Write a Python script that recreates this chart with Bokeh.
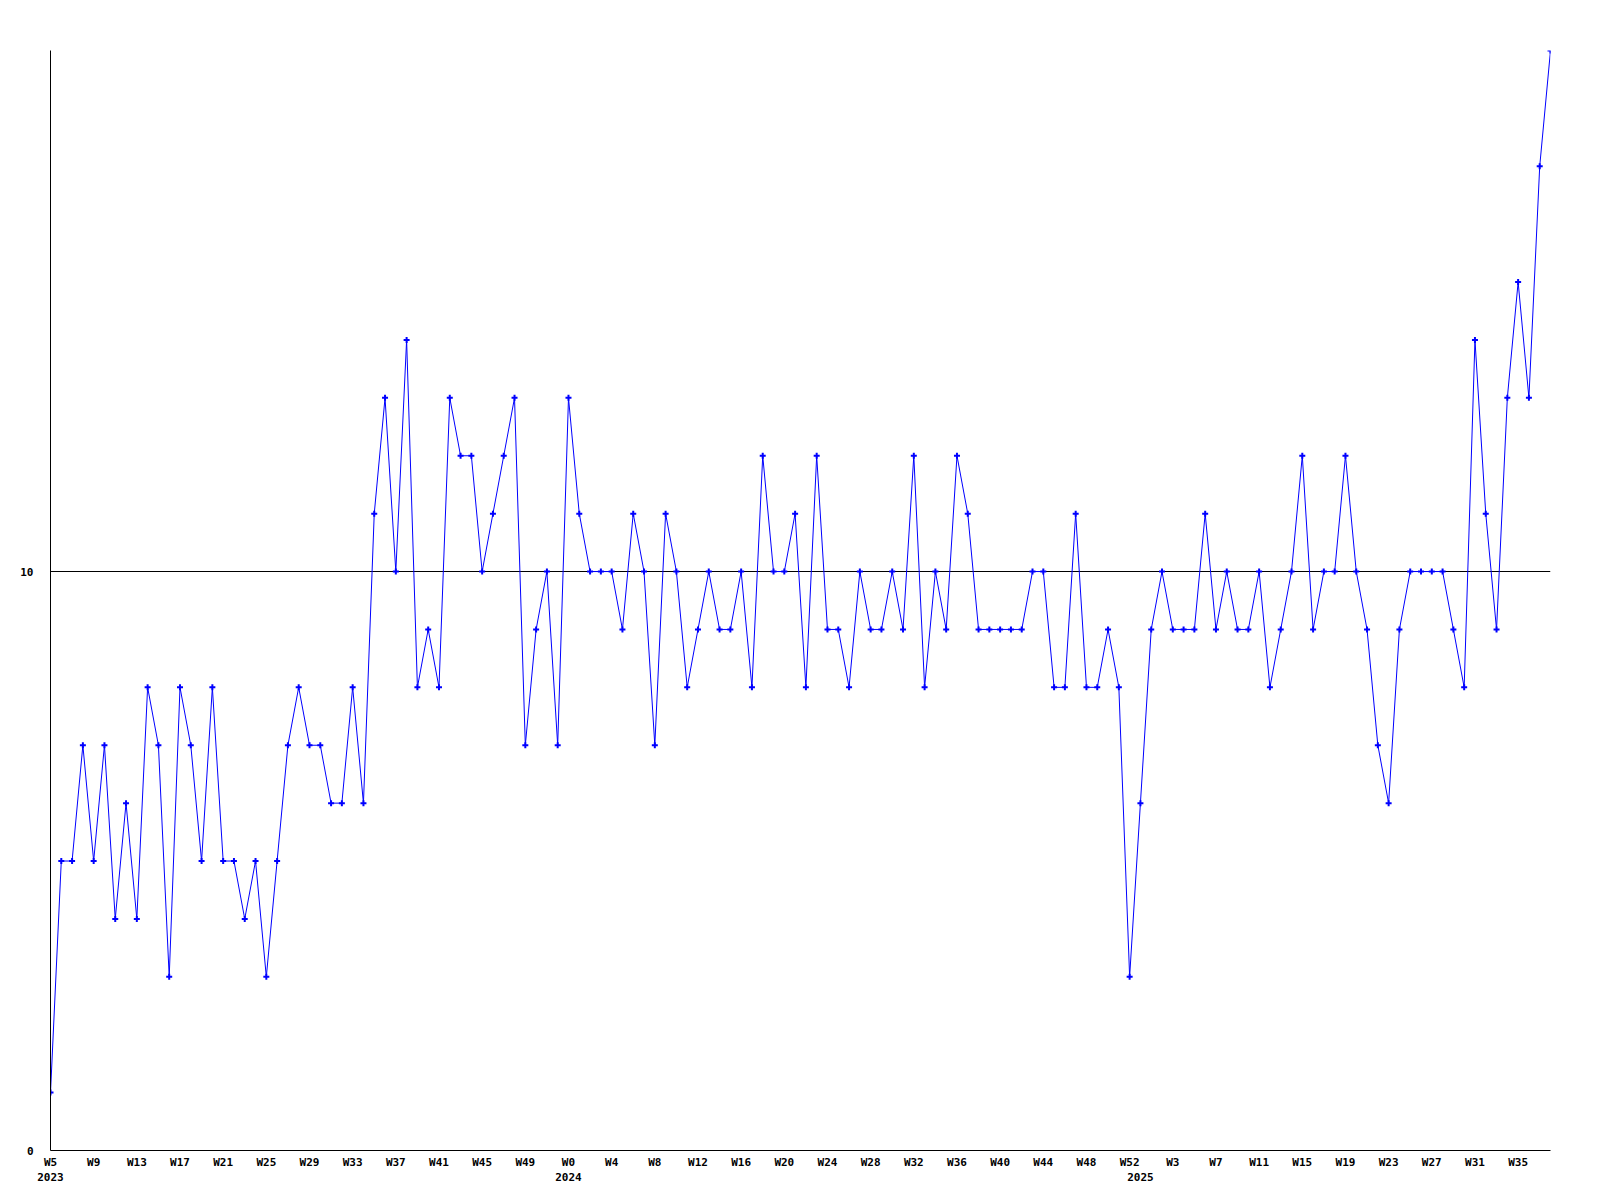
from bokeh.plotting import figure
from bokeh.models import Range1d, LinearAxis, FixedTicker
from bokeh.embed import file_html
from bokeh.resources import INLINE

# weekly values, W5 2023 .. W37 2025
values = [
    1, 5, 5, 7, 5, 7, 4, 6, 4, 8, 7, 3, 8, 7, 5, 8, 5, 5, 4, 5,
    3, 5, 7, 8, 7, 7, 6, 6, 8, 6,
    11, 13, 10, 14, 8, 9, 8, 13, 12, 12, 10, 11, 12, 13, 7, 9, 10, 7, 13, 11, 10,
    10, 10, 9, 11, 10, 7, 11, 10, 8, 9, 10, 9, 9, 10, 8, 12, 10, 10, 11, 8, 12, 9,
    9, 8, 10, 9, 9, 10, 9, 12, 8, 10, 9, 12, 11, 9, 9, 9, 9, 9, 10, 10, 8,
    8, 11, 8, 8, 9, 8, 3, 6, 9, 10, 9, 9, 9, 11, 9, 10, 9, 9, 10, 8, 9,
    10, 12, 9, 10, 10, 12, 10, 9, 7, 6, 9, 10, 10, 10, 10, 9, 8, 14, 11, 9, 13, 15, 13, 17, 19,
]

week_tick_labels = [
    "W5", "W9", "W13", "W17", "W21", "W25", "W29", "W33", "W37", "W41", "W45", "W49",
    "W0", "W4", "W8", "W12", "W16", "W20", "W24", "W28", "W32", "W36", "W40", "W44", "W48", "W52",
    "W3", "W7", "W11", "W15", "W19", "W23", "W27", "W31", "W35",
]
week_tick_index = [
    0, 4, 8, 12, 16, 20, 24, 28, 32, 36, 40, 44,
    48, 52, 56, 60, 64, 68, 72, 76, 80, 84, 88, 92, 96, 100,
    104, 108, 112, 116, 120, 124, 128, 132, 136,
]
year_labels = ["2023", "2024", "2025"]
year_index = [0, 48, 101]

y_tick_values = [0, 10]
y_tick_labels = ["0", "10"]

FONT = "DejaVu Sans Mono"

xs = list(range(len(values)))

p = figure(width=1584, height=1196, output_backend="svg", toolbar_location=None,
           x_range=Range1d(0, len(values) - 1), y_range=Range1d(0, 19),
           min_border_left=50, min_border_right=34, min_border_top=50, min_border_bottom=46)
p.outline_line_color = None
p.background_fill_color = "white"
p.border_fill_color = "white"
p.xgrid.visible = False
p.ygrid.ticker = FixedTicker(ticks=[10])
p.ygrid.grid_line_color = "black"
p.ygrid.grid_line_alpha = 1.0
p.ygrid.grid_line_width = 1


def style_axis(ax):
    ax.major_tick_line_color = None
    ax.minor_tick_line_color = None
    ax.major_tick_out = 0
    ax.major_tick_in = 0
    ax.minor_tick_out = 0
    ax.minor_tick_in = 0
    ax.axis_line_color = "black"
    ax.axis_line_width = 1
    ax.major_label_text_font = FONT
    ax.major_label_text_font_size = "11px"
    ax.major_label_text_font_style = "bold"
    ax.major_label_text_color = "black"


xa = p.xaxis[0]
style_axis(xa)
xa.ticker = FixedTicker(ticks=week_tick_index)
xa.major_label_overrides = {i: t for i, t in zip(week_tick_index, week_tick_labels)}
xa.major_label_standoff = 5

ya = p.yaxis[0]
style_axis(ya)
ya.ticker = FixedTicker(ticks=y_tick_values)
ya.major_label_overrides = {v: t for v, t in zip(y_tick_values, y_tick_labels)}
ya.major_label_standoff = 17

year_axis = LinearAxis(ticker=FixedTicker(ticks=year_index),
                       major_label_overrides={i: t for i, t in zip(year_index, year_labels)})
style_axis(year_axis)
year_axis.axis_line_color = None
year_axis.major_label_standoff = 1
p.add_layout(year_axis, "below")

p.line(xs, values, line_color="#0000ff", line_width=1)
p.scatter(xs, values, marker="cross", size=6, line_color="#0000ff", line_width=2)

open("out.html", "w").write(file_html(p, INLINE))
